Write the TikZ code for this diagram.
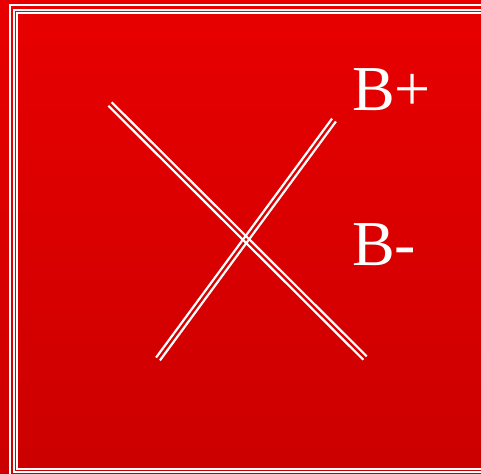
\documentclass[tikz,border=0pt]{standalone}
\usepackage{fontspec}
\setmainfont{Liberation Serif}
\usetikzlibrary{calc}
\definecolor{topred}{RGB}{232,0,0}
\definecolor{botred}{RGB}{204,0,0}
\begin{document}
\begin{tikzpicture}[x=1pt,y=-1pt,
  frameline/.style={draw=white,line width=2pt},
  strand/.style={draw=white,line width=2.2pt},
  lbl/.style={text=white,font=\fontsize{64}{64}\selectfont,inner sep=0pt,anchor=base west}]
\useasboundingbox (0,0) rectangle (481,473);
\shade[top color=topred,bottom color=botred] (0,0) rectangle (481,473);
% frames
\draw[frameline] (10,5) rectangle (520,490);
\draw[frameline] (13.5,10.5) rectangle (520,472);
\draw[frameline] (17,13) rectangle (520,468.5);
% X lines
\coordinate (a1) at (110,104);
\coordinate (a2) at (365,358);
\coordinate (b1) at (334,120);
\coordinate (b2) at (158,359);
\draw[strand] ($(a1)!2.4pt!90:(a2)$) -- ($(a2)!2.4pt!-90:(a1)$);
\draw[strand] ($(a1)!2.4pt!-90:(a2)$) -- ($(a2)!2.4pt!90:(a1)$);
\draw[strand] ($(b1)!2.4pt!90:(b2)$) -- ($(b2)!2.4pt!-90:(b1)$);
\draw[strand] ($(b1)!2.4pt!-90:(b2)$) -- ($(b2)!2.4pt!90:(b1)$);
% labels
\node[lbl] (bp) at (352,111) {B+};
\node[lbl] (bm) at (352,265) {B-};
\end{tikzpicture}
\end{document}
